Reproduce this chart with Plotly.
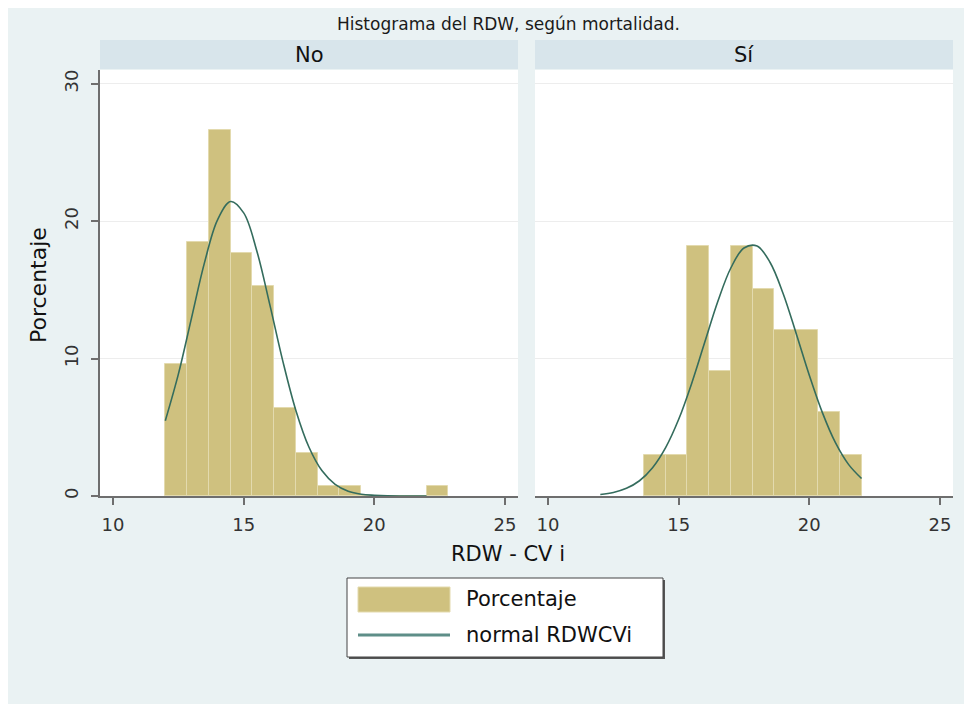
import plotly.graph_objects as go

# ---------------- data ----------------
bin_width = 0.8333
no_start = 12.0
no_pct = [9.6, 18.5, 26.6, 17.7, 15.3, 6.4, 3.1, 0.7, 0.7, 0.0, 0.0, 0.0, 0.7]
si_start = 13.667
si_pct = [3.0, 3.0, 18.2, 9.1, 18.2, 15.1, 12.1, 12.1, 6.1, 3.0]

curve_x = [12.0, 12.5, 13.0, 13.5, 14.0, 14.5, 15.0, 15.5, 16.0, 16.5, 17.0,
           17.5, 18.0, 18.5, 19.0, 19.5, 20.0, 20.5, 21.0, 21.5, 22.0]
no_curve = [5.48, 8.87, 12.93, 16.98, 20.10, 21.43, 20.60, 17.85, 13.93, 9.80, 6.21,
            3.55, 1.83, 0.85, 0.35, 0.13, 0.05, 0.01, 0.0, 0.0, 0.0]
si_curve = [0.11, 0.26, 0.56, 1.11, 2.06, 3.52, 5.58, 8.21, 11.20, 14.17, 16.61,
            18.05, 18.19, 16.99, 14.72, 11.81, 8.79, 6.07, 3.88, 2.30, 1.27]

panel_labels = ["No", "Sí"]
x_ticks = [10, 15, 20, 25]
y_ticks = [0, 10, 20, 30]
title_text = "Histograma del RDW, según mortalidad."
x_title = "RDW - CV i"
y_title = "Porcentaje"
legend_labels = ["Porcentaje", "normal RDWCVi"]

# ---------------- style ----------------
W, H = 972, 704
OFF = 8  # page body margin
FONT = "DejaVu Sans"
BAR = "#CFC17F"
BAR_EDGE = "#E3DAAE"
LINE = "#346C5D"
BG = "#EAF2F3"
STRIP = "#D8E5EB"
AXC = "#6E6E6E"


def px(x):
    return (x - OFF) / W


def py(y):
    return 1 - (y - OFF) / H


def centers(start, n):
    return [start + bin_width * (i + 0.5) for i in range(n)]


fig = go.Figure()
fig.add_trace(go.Bar(x=centers(no_start, len(no_pct)), y=no_pct, width=bin_width,
                     marker=dict(color=BAR, line=dict(color=BAR_EDGE, width=1)),
                     xaxis="x", yaxis="y", showlegend=False))
fig.add_trace(go.Scatter(x=curve_x, y=no_curve, mode="lines", line=dict(color=LINE, width=1.6, shape="spline"),
                         xaxis="x", yaxis="y", showlegend=False))
fig.add_trace(go.Bar(x=centers(si_start, len(si_pct)), y=si_pct, width=bin_width,
                     marker=dict(color=BAR, line=dict(color=BAR_EDGE, width=1)),
                     xaxis="x2", yaxis="y2", showlegend=False))
fig.add_trace(go.Scatter(x=curve_x, y=si_curve, mode="lines", line=dict(color=LINE, width=1.6, shape="spline"),
                         xaxis="x2", yaxis="y2", showlegend=False))

xcommon = dict(range=[9.5, 25.5], tickvals=x_ticks, ticktext=[str(t) for t in x_ticks],
               showline=True, linecolor=AXC, linewidth=2, ticks="outside", ticklen=7,
               tickcolor=AXC, tickwidth=1.5, showgrid=False, zeroline=False,
               tickfont=dict(family=FONT, size=18, color="#333333"), automargin=False,
               ticklabelstandoff=4, fixedrange=True)
ycommon = dict(range=[0, 31], tickvals=y_ticks, showgrid=True, gridcolor="#EDEDED", gridwidth=1,
               zeroline=False, automargin=False, fixedrange=True,
               domain=[py(496), py(70)])

fig.update_layout(
    width=W, height=H, margin=dict(l=0, r=0, t=0, b=0),
    paper_bgcolor=BG, plot_bgcolor="white", template="none",
    bargap=0, barmode="overlay", showlegend=False,
    xaxis=dict(domain=[px(100), px(518)], anchor="y", **xcommon),
    xaxis2=dict(domain=[px(535), px(953)], anchor="y2", **xcommon),
    yaxis=dict(anchor="x", showline=True, linecolor=AXC, linewidth=2, ticks="outside", ticklen=7,
               tickcolor=AXC, tickwidth=1.5, tickangle=-90, ticklabelstandoff=6,
               tickfont=dict(family=FONT, size=18, color="#333333"), **ycommon),
    yaxis2=dict(anchor="x2", showline=False, showticklabels=False, ticks="", **ycommon),
)

shapes = [
    # strips
    dict(type="rect", xref="paper", yref="paper", x0=px(100), x1=px(518), y0=py(69), y1=py(40),
         fillcolor=STRIP, line=dict(width=0)),
    dict(type="rect", xref="paper", yref="paper", x0=px(535), x1=px(953), y0=py(69), y1=py(40),
         fillcolor=STRIP, line=dict(width=0)),
    # legend shadow + box
    dict(type="rect", xref="paper", yref="paper", x0=px(349), x1=px(665), y0=py(659), y1=py(580),
         fillcolor="#555555", line=dict(width=0)),
    dict(type="rect", xref="paper", yref="paper", x0=px(347), x1=px(663), y0=py(657), y1=py(578),
         fillcolor="white", line=dict(color="#444444", width=1)),
    # legend swatches
    dict(type="rect", xref="paper", yref="paper", x0=px(358), x1=px(450), y0=py(612), y1=py(587),
         fillcolor=BAR, line=dict(color=BAR_EDGE, width=1)),
    dict(type="line", xref="paper", yref="paper", x0=px(358), x1=px(450), y0=py(635), y1=py(635),
         line=dict(color="#5E8E88", width=3)),
]
fig.update_layout(shapes=shapes)

ann = [
    dict(text=title_text, x=px(509), y=py(24), font=dict(size=17, color="#1A1A1A")),
    dict(text=panel_labels[0], x=px(309), y=py(55), font=dict(size=21, color="#111111")),
    dict(text=panel_labels[1], x=px(744), y=py(55), font=dict(size=21, color="#111111")),
    dict(text=x_title, x=px(508), y=py(554), font=dict(size=21, color="#111111")),
    dict(text=y_title, x=px(38), y=py(285), textangle=-90, font=dict(size=22, color="#111111")),
    dict(text=legend_labels[0], x=px(464), y=py(599), xanchor="left", font=dict(size=21, color="#111111")),
    dict(text=legend_labels[1], x=px(464), y=py(635), xanchor="left", font=dict(size=21, color="#111111")),
]
for a in ann:
    a.setdefault("xanchor", "center")
    a["font"]["family"] = FONT
    fig.add_annotation(xref="paper", yref="paper", yanchor="middle", showarrow=False, **a)

fig.write_html("out.html")
